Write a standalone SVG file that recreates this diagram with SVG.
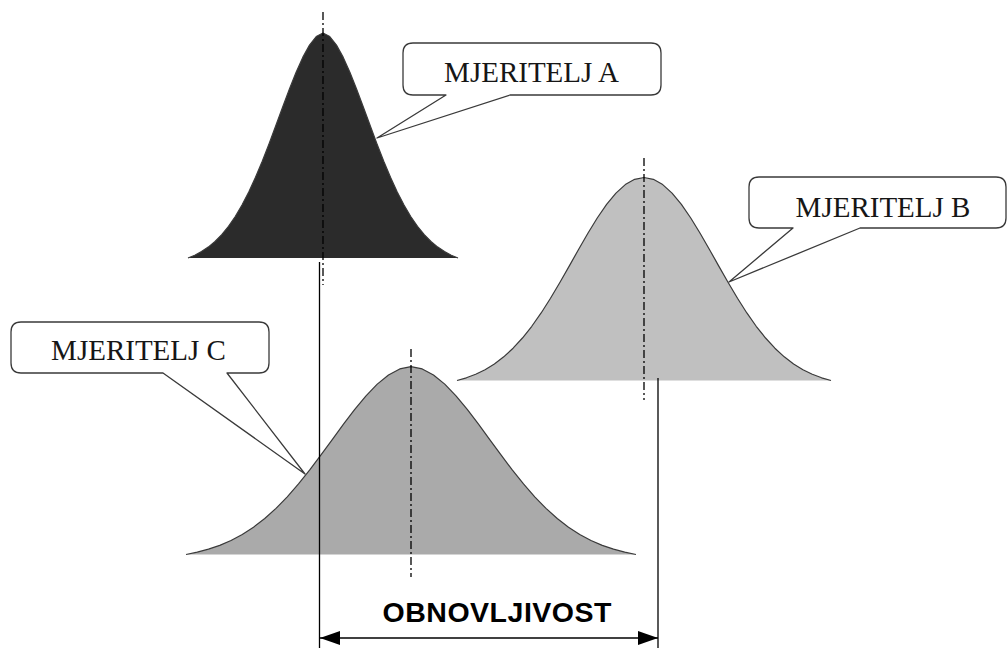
<svg xmlns="http://www.w3.org/2000/svg" width="1008" height="648" viewBox="0 0 1008 648">
<style>
.curve{stroke:#3a3a3a;stroke-width:1.2;stroke-linejoin:round}
.axis{stroke:#000;stroke-width:1.3;stroke-dasharray:8 3 2 3;fill:none}
.callout{fill:#fff;stroke:#3a3a3a;stroke-width:1.3;stroke-linejoin:round}
.ctext{font-family:"Liberation Serif","Times New Roman",serif;font-size:29px;fill:#161616;text-anchor:middle}
.dim{stroke:#000;stroke-width:1.3;fill:none}
.dtext{font-family:"Liberation Sans",Arial,sans-serif;font-size:28.5px;font-weight:bold;fill:#000;text-anchor:middle}
</style>
<defs>
<marker id="ah" viewBox="0 0 20 14" refX="20" refY="7" markerWidth="20" markerHeight="14" markerUnits="userSpaceOnUse" orient="auto-start-reverse">
<path d="M0,0 L20,7 L0,14 Z" fill="#000"/>
</marker>
</defs>
<rect width="1008" height="648" fill="#fff"/>

<g id="node-b">
<path class="curve" fill="#c0c0c0" d="M457,380.5 L466.35,377.8 L475.7,374.26 L485.05,369.69 L494.4,363.93 L503.75,356.82 L513.1,348.21 L522.45,338.03 L531.8,326.26 L541.15,312.95 L550.5,298.28 L559.85,282.53 L569.2,266.1 L578.55,249.47 L587.9,233.21 L597.25,217.97 L606.6,204.39 L615.95,193.08 L625.3,184.57 L634.65,179.29 L644,177.5 L653.35,179.29 L662.7,184.57 L672.05,193.08 L681.4,204.39 L690.75,217.97 L700.1,233.21 L709.45,249.47 L718.8,266.1 L728.15,282.53 L737.5,298.28 L746.85,312.95 L756.2,326.26 L765.55,338.03 L774.9,348.21 L784.25,356.82 L793.6,363.93 L802.95,369.69 L812.3,374.26 L821.65,377.8 L831,380.5"/>
<line class="axis" x1="644" y1="158" x2="644" y2="400"/>
</g>

<g id="node-c">
<path class="curve" fill="#aaaaaa" d="M186,554.5 L197.25,552.2 L208.5,549.19 L219.75,545.34 L231,540.49 L242.25,534.47 L253.5,527.18 L264.75,518.51 L276,508.39 L287.25,496.84 L298.5,483.94 L309.75,469.88 L321,454.95 L332.25,439.55 L343.5,424.17 L354.75,409.39 L366,395.82 L377.25,384.13 L388.5,374.97 L399.75,368.95 L411,366.7 L422.25,368.95 L433.5,374.97 L444.75,384.13 L456,395.82 L467.25,409.39 L478.5,424.17 L489.75,439.55 L501,454.95 L512.25,469.88 L523.5,483.94 L534.75,496.84 L546,508.39 L557.25,518.51 L568.5,527.18 L579.75,534.47 L591,540.49 L602.25,545.34 L613.5,549.19 L624.75,552.2 L636,554.5"/>
<line class="axis" x1="411" y1="349" x2="411" y2="577"/>
</g>

<g id="node-a">
<path class="curve" fill="#2b2b2b" d="M188,258 L194.75,255.2 L201.5,251.62 L208.25,247.11 L215,241.49 L221.75,234.6 L228.5,226.31 L235.25,216.49 L242,205.04 L248.75,191.96 L255.5,177.29 L262.25,161.17 L269,143.88 L275.75,125.8 L282.5,107.44 L289.25,89.41 L296,72.46 L302.75,57.38 L309.5,45.09 L316.25,36.54 L323,33 L329.75,36.54 L336.5,45.09 L343.25,57.38 L350,72.46 L356.75,89.41 L363.5,107.44 L370.25,125.8 L377,143.88 L383.75,161.17 L390.5,177.29 L397.25,191.96 L404,205.04 L410.75,216.49 L417.5,226.31 L424.25,234.6 L431,241.49 L437.75,247.11 L444.5,251.62 L451.25,255.2 L458,258"/>
<line class="axis" x1="323" y1="12" x2="323" y2="285"/>
</g>

<g id="callout-a">
<path class="callout" d="M413,43 H651 Q661,43 661,53 V85 Q661,95 651,95 H510 L377,138 L446,95 H413 Q403,95 403,85 V53 Q403,43 413,43 Z"/>
<text class="ctext" x="531.5" y="82">MJERITELJ A</text>
</g>

<g id="callout-b">
<path class="callout" d="M759,177 H996 Q1006,177 1006,187 V218 Q1006,228 996,228 H860 L729,282 L793,228 H759 Q749,228 749,218 V187 Q749,177 759,177 Z"/>
<text class="ctext" x="883" y="217">MJERITELJ B</text>
</g>

<g id="callout-c">
<path class="callout" d="M21,322 H259 Q269,322 269,332 V363 Q269,373 259,373 H227 L305,474 L163,373 H21 Q11,373 11,363 V332 Q11,322 21,322 Z"/>
<text class="ctext" x="138.5" y="360">MJERITELJ C</text>
</g>

<g id="connectors">
<line class="dim" x1="319.5" y1="262" x2="319.5" y2="648"/>
<line class="dim" x1="658" y1="378" x2="658" y2="648"/>
<line class="dim" x1="320" y1="638" x2="658" y2="638" marker-start="url(#ah)" marker-end="url(#ah)"/>
<text class="dtext" x="497" y="622" textLength="229" lengthAdjust="spacing">OBNOVLJIVOST</text>
</g>
</svg>
